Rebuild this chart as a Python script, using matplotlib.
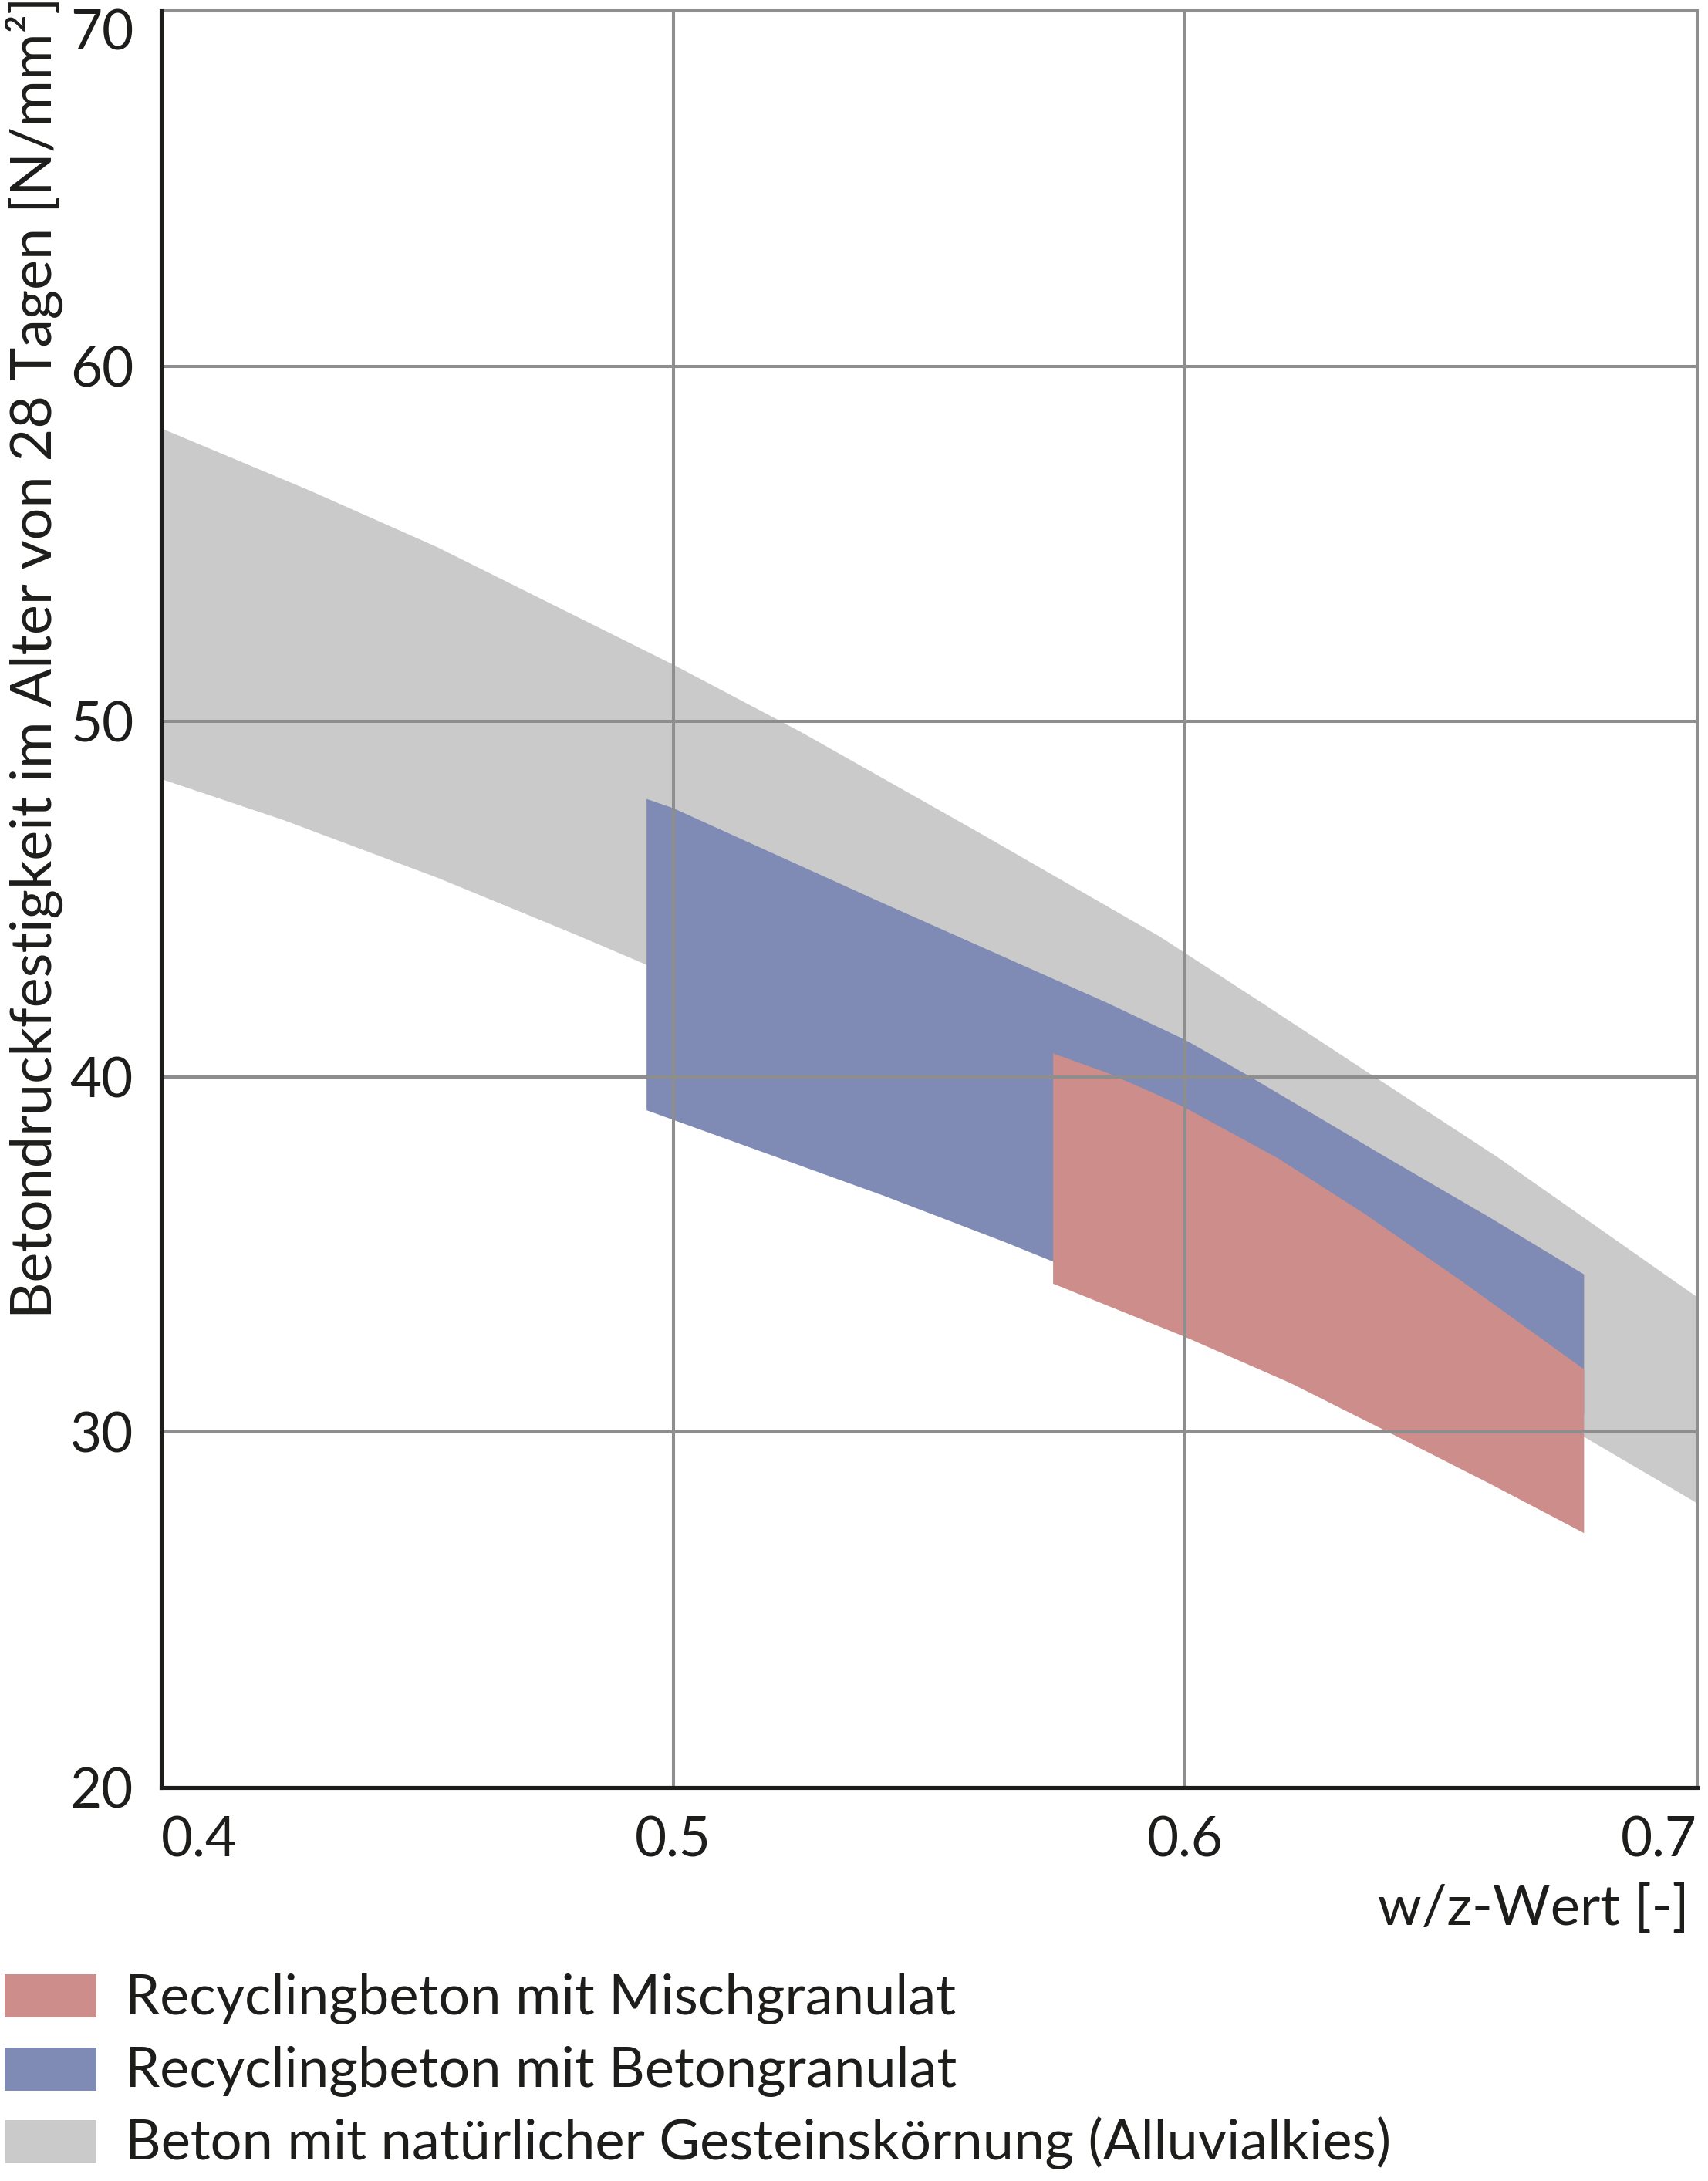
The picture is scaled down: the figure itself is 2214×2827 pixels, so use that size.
import matplotlib
matplotlib.use("Agg")
import matplotlib.pyplot as plt
import matplotlib.transforms as mtransforms
from matplotlib.patches import Rectangle

plt.rcParams['font.family'] = ['Lato', 'DejaVu Sans']

# --- data ---
natural_upper_x = [0.400, 0.429, 0.454, 0.477, 0.500, 0.525, 0.560, 0.595, 0.615, 0.637, 0.661, 0.681, 0.700]
natural_upper_y = [58.25, 56.50, 54.90, 53.25, 51.60, 49.70, 46.85, 43.95, 42.08, 40.00, 37.74, 35.72, 33.80]
natural_lower_x = [0.400, 0.424, 0.454, 0.481, 0.495, 0.520, 0.560, 0.600, 0.640, 0.678, 0.700]
natural_lower_y = [48.38, 47.22, 45.60, 44.00, 43.14, 41.50, 38.60, 35.60, 32.60, 29.86, 28.00]

beton_upper_x = [0.4948, 0.500, 0.540, 0.5848, 0.600, 0.612, 0.6385, 0.6595, 0.6779]
beton_upper_y = [47.82, 47.56, 44.95, 42.08, 41.04, 40.06, 37.80, 36.04, 34.44]
beton_lower_x = [0.4948, 0.5412, 0.5644, 0.5742, 0.600, 0.640, 0.6779]
beton_lower_y = [39.06, 36.65, 35.37, 34.80, 33.40, 31.40, 30.50]

misch_upper_x = [0.5742, 0.585, 0.5945, 0.600, 0.618, 0.635, 0.654, 0.6779]
misch_upper_y = [40.66, 40.10, 39.50, 39.13, 37.72, 36.15, 34.25, 31.77]
misch_lower_x = [0.5742, 0.600, 0.6206, 0.6397, 0.6595, 0.6779]
misch_lower_y = [34.18, 32.68, 31.38, 30.00, 28.55, 27.16]

x_ticks = [0.4, 0.5, 0.6, 0.7]
x_tick_labels = ['0.4', '0.5', '0.6', '0.7']
y_ticks = [20, 30, 40, 50, 60, 70]
y_tick_labels = ['20', '30', '40', '50', '60', '70']

legend_labels = [
    'Recyclingbeton mit Mischgranulat',
    'Recyclingbeton mit Betongranulat',
    'Beton mit natürlicher Gesteinskörnung (Alluvialkies)',
]

RED = '#cd8d8a'
BLUE = '#7f8bb4'
GRAY = '#cacaca'
TEXT = '#1d1d1b'
GRID = '#8e8e8e'

W, H = 2214, 2827


def band(ax, xu, yu, xl, yl, color):
    """Closed band between an upper and a lower edge."""
    xs = list(xu) + list(xl)[::-1]
    ys = list(yu) + list(yl)[::-1]
    ax.fill(xs, ys, color=color, lw=0, zorder=1)


fig = plt.figure(figsize=(W / 100, H / 100), dpi=100)
ax = fig.add_axes([209 / W, 1 - 2317 / H, (2200 - 209) / W, (2317 - 14) / H])

band(ax, natural_upper_x, natural_upper_y, natural_lower_x, natural_lower_y, GRAY)
band(ax, beton_upper_x, beton_upper_y, beton_lower_x, beton_lower_y, BLUE)
band(ax, misch_upper_x, misch_upper_y, misch_lower_x, misch_lower_y, RED)

ax.set_xlim(0.4, 0.7)
ax.set_ylim(20, 70)
ax.set_xticks(x_ticks)
ax.set_xticklabels(x_tick_labels)
ax.set_yticks(y_ticks)
ax.set_yticklabels(y_tick_labels)

ax.set_axisbelow(False)
ax.grid(True, color=GRID, lw=2.9)
ax.tick_params(length=0, pad=26, labelsize=51, labelcolor=TEXT)

for side in ('left', 'bottom'):
    ax.spines[side].set_color(TEXT)
    ax.spines[side].set_linewidth(3.7)
    ax.spines[side].set_zorder(5)
for side in ('top', 'right'):
    ax.spines[side].set_color(GRID)
    ax.spines[side].set_linewidth(2.9)

# edge tick labels sit inside the frame like in the original
xl = ax.get_xticklabels()
xl[0].set_ha('left')
xl[-1].set_ha('right')
yl = ax.get_yticklabels()
yl[-1].set_transform(yl[-1].get_transform() +
                     mtransforms.ScaledTranslation(0, -0.24, fig.dpi_scale_trans))

# axis titles
fig.text(2190 / W, 1 - 2495 / H, 'w/z-Wert [-]', ha='right', va='baseline',
         fontsize=52, color=TEXT)
fig.text(67 / W, 1 - 1709 / H, 'Betondruckfestigkeit im Alter von 28 Tagen [N/mm²]',
         rotation=90, rotation_mode='anchor', ha='left', va='baseline',
         fontsize=53, color=TEXT)

# legend
legend_colors = [RED, BLUE, GRAY]
patch_tops = [2559, 2654, 2748]
baselines = [2611, 2705, 2799]
for label, color, top, base in zip(legend_labels, legend_colors, patch_tops, baselines):
    fig.patches.append(Rectangle((6 / W, 1 - (top + 56) / H), 119 / W, 56 / H,
                                 transform=fig.transFigure, color=color, lw=0))
    fig.text(162 / W, 1 - base / H, label, ha='left', va='baseline',
             fontsize=52, color=TEXT)

fig.savefig('out.png', dpi=100)
